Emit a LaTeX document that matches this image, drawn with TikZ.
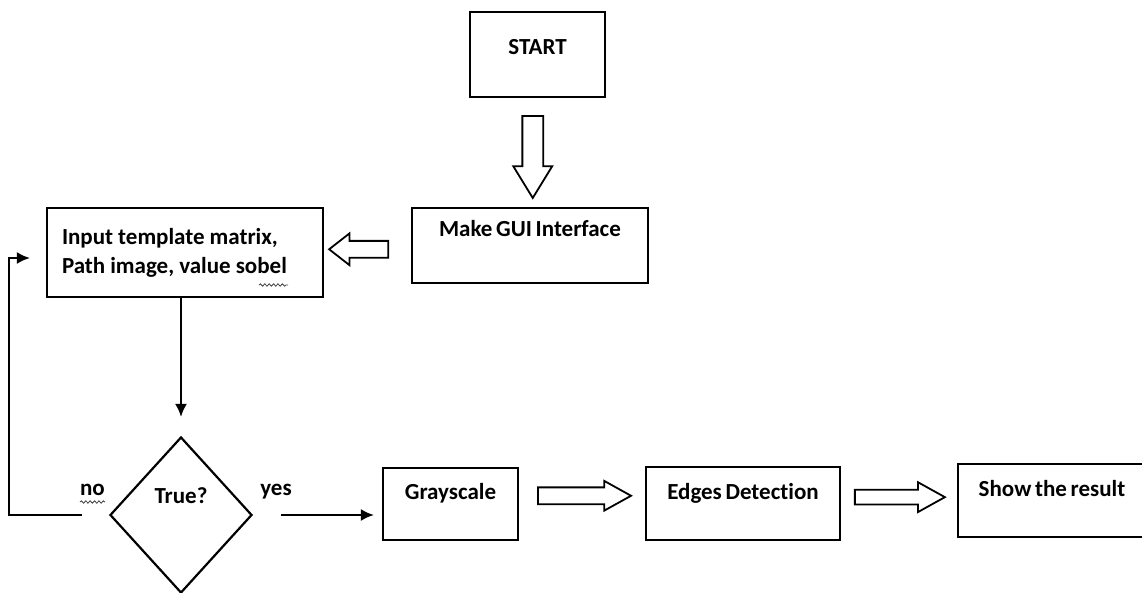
\documentclass[tikz,border=0pt]{standalone}
\usepackage{fontspec}
\setmainfont{Carlito}[Ligatures=CommonOff]
\usetikzlibrary{arrows.meta,calc,shapes.geometric,shapes.arrows,decorations.pathmorphing}
\newcommand{\flowfont}{\fontsize{11.5}{14.5}\selectfont\bfseries\spaceskip=0.16em plus 0.05em\relax}
\tikzset{flowbox/.style={draw,line width=1.1pt,inner sep=0pt,font=\flowfont,align=center},
 flowarr/.style={-{Latex[length=6.5pt,width=6pt]},line width=1pt},
 blockarr/.style={single arrow,draw,line width=0.9pt,inner xsep=0pt,inner ysep=3.75pt,
 single arrow head extend=3.25pt,single arrow tip angle=58},
 flowlbl/.style={font=\flowfont,inner sep=0pt,anchor=base},
 squiggle/.style={decorate,decoration={snake,amplitude=0.6pt,segment length=2.2pt},line width=0.4pt,black!75}}

\begin{document}
\begin{tikzpicture}[x=0.5pt,y=-0.5pt]
\useasboundingbox (0,0) rectangle (1142,593);
% boxes
\node[flowbox,minimum width=67.5pt,text height=21.5pt,text depth=21pt] (start) at (537.5,54.5) {START};
\node[flowbox,minimum width=118pt,text height=14.5pt,text depth=23pt] (gui) at (530,245.5) {Make GUI Interface};
\node[flowbox,minimum width=138pt,minimum height=44.5pt,text width=123pt,align=left,
 execute at begin node={\spaceskip=0.22em plus 0.05em\relax}] (input) at (185,252.5)
 {Input template matrix,\\Path image, value sobel};
\node[diamond,draw,line width=1.1pt,inner sep=0pt,minimum width=71pt,minimum height=78pt,
 font=\flowfont,text height=8pt,text depth=20pt] (cond) at (181,515) {True?};
\node[flowbox,minimum width=67.5pt,text height=16pt,text depth=20pt] (gray) at (450.5,504) {Grayscale};
\node[flowbox,minimum width=97pt,text height=16.5pt,text depth=20pt] (edges) at (743,503.5) {Edges Detection};
\node[flowbox,minimum width=94pt,text height=16.5pt,text depth=20pt] (show) at (1052,500.5) {Show the result};

% hollow arrows
\node[blockarr,rotate=-90,minimum height=41pt,inner ysep=4.75pt,single arrow head extend=4.5pt,
 single arrow tip angle=63] (start2gui) at ($(start.south)!0.5!(gui.north)+(-1,-4)$) {};
\node[blockarr,rotate=180,minimum height=29.5pt,single arrow head extend=3.75pt,
 single arrow tip angle=76] (gui2input) at ($(input.east)!0.46!(gui.west)$) {};
\node[blockarr,minimum height=46.5pt] (gray2edges) at ($(gray.east)!0.46!(edges.west)+(0,-8)$) {};
\node[blockarr,minimum height=45pt,inner ysep=3.25pt,single arrow head extend=3.75pt] (edges2show)
 at ($(edges.east)!0.45!(show.west)+(0,-5)$) {};

% connectors
\draw[flowarr,shorten >=9.5pt] (cond.north |- input.south) -- (cond.north);
\draw[flowarr,shorten <=14pt,shorten >=4pt] (cond.east) -- (cond.east -| gray.west);
\draw[flowarr] ([xshift=-13.5pt]cond.west) -- ++(-73,0) |- ([xshift=-8pt,yshift=-2.75pt]input.west);

% labels
\node[flowlbl] (nolbl) at (92.5,495) {no};
\node[flowlbl] (yeslbl) at (276,495) {yes};
\draw[squiggle] (80,502) -- (105,502);
\draw[squiggle] (259,285) -- (288,285);
\end{tikzpicture}
\end{document}
